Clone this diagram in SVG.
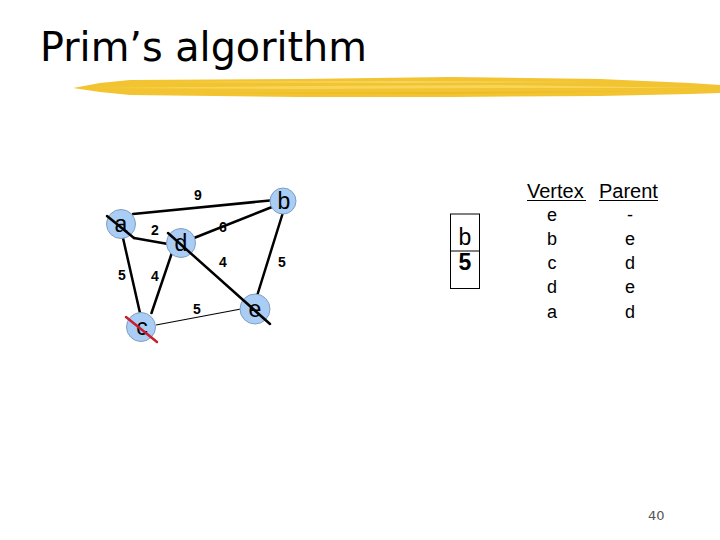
<svg xmlns="http://www.w3.org/2000/svg" width="720" height="540" viewBox="0 0 720 540">
<style>
.node circle{fill:#a9cdf5;stroke:#7f9fc0;stroke-width:1}
.nl{font-family:"Liberation Sans",Arial,sans-serif;font-size:23px;fill:#000;text-anchor:middle}
.w{font-family:"Liberation Sans",Arial,sans-serif;font-size:14px;font-weight:bold;fill:#000;text-anchor:middle}
.e{stroke:#000;stroke-width:2.5;fill:none;stroke-linecap:round}
.thin{stroke:#000;stroke-width:1.2;fill:none}
.t{font-family:"Liberation Sans",Arial,sans-serif;font-size:18px;fill:#000;text-anchor:middle}
.h{font-family:"Liberation Sans",Arial,sans-serif;font-size:20px;fill:#000}
</style>
<rect width="720" height="540" fill="#fff"/>
<text x="40" y="61" font-family="'DejaVu Sans','Noto Sans',sans-serif" font-size="40" textLength="327" lengthAdjust="spacingAndGlyphs" fill="#000">Prim’s algorithm</text>
<g id="brush">
<path d="M73,88 L100,83 L130,80 L300,79 L450,77 L600,79 L690,83 L720,85 L720,93 L690,94 L600,96 L450,97 L300,97 L130,95 L100,92 Z" fill="#f2c431"/>
<path d="M90,88 L300,86 L500,85 L700,88 L500,88 L300,89 Z" fill="#f8da62" opacity="0.8"/>
<path d="M150,82 L400,81 L600,82 L400,83 Z" fill="#f8dc70" opacity="0.7"/>
<path d="M200,93 L450,92 L650,91 L450,94 Z" fill="#e9b820" opacity="0.7"/>
</g>
<g id="connectors">
<line class="e" x1="133" y1="214" x2="270" y2="200.5"/>
<line class="e" x1="134" y1="238" x2="168" y2="244"/>
<line class="e" x1="194" y1="238" x2="272" y2="207"/>
<line class="e" x1="282.5" y1="214" x2="257" y2="296"/>
<line class="e" x1="123" y1="238" x2="140" y2="313"/>
<line class="e" x1="151.5" y1="313" x2="171.5" y2="254"/>
<line class="thin" x1="156" y1="325" x2="241" y2="309"/>
</g>
<g id="node-a" class="node"><circle cx="121" cy="224" r="14.5"/><text class="nl" x="121" y="232">a</text></g>
<g id="node-b" class="node"><circle cx="283" cy="201" r="13"/><text class="nl" x="284" y="209">b</text></g>
<g id="node-d" class="node"><circle cx="181" cy="243" r="14.5"/><text class="nl" x="181" y="251">d</text></g>
<g id="node-c" class="node"><circle cx="141" cy="327" r="14.5"/><text class="nl" x="142" y="335">c</text></g>
<g id="node-e" class="node"><circle cx="255" cy="309" r="15"/><text class="nl" x="255" y="317">e</text></g>
<g id="strikes">
<line class="e" x1="107" y1="216" x2="134" y2="238"/>
<line class="e" x1="168" y1="233" x2="270" y2="324"/>
<line x1="126" y1="317" x2="157" y2="342" stroke="#c8202a" stroke-width="2.5" stroke-linecap="round"/>
</g>
<g id="weights">
<text class="w" x="198" y="200">9</text>
<text class="w" x="155" y="235">2</text>
<text class="w" x="223" y="232">6</text>
<text class="w" x="223" y="267">4</text>
<text class="w" x="282" y="267">5</text>
<text class="w" x="122" y="280">5</text>
<text class="w" x="155" y="281">4</text>
<text class="w" x="197" y="314">5</text>
</g>
<g id="heap">
<rect x="450.5" y="214" width="29" height="74.5" fill="none" stroke="#000" stroke-width="1"/>
<line x1="450.5" y1="251" x2="479.5" y2="251" stroke="#000" stroke-width="1"/>
<text class="nl" x="465" y="245" font-size="20">b</text>
<text class="nl" x="465" y="270" font-weight="bold" font-size="19">5</text>
</g>
<g id="table">
<text class="h" x="527" y="198">Vertex</text>
<text class="h" x="599" y="198">Parent</text>
<line x1="527" y1="200.5" x2="586" y2="200.5" stroke="#000" stroke-width="1"/>
<line x1="599" y1="200.5" x2="658" y2="200.5" stroke="#000" stroke-width="1"/>
<text class="t" x="552" y="220.5">e</text><text class="t" x="630" y="220.5">-</text>
<text class="t" x="552" y="245">b</text><text class="t" x="630" y="245">e</text>
<text class="t" x="552" y="269">c</text><text class="t" x="630" y="269">d</text>
<text class="t" x="552" y="293">d</text><text class="t" x="630" y="293">e</text>
<text class="t" x="552" y="317.5">a</text><text class="t" x="630" y="317.5">d</text>
</g>
<text x="648" y="520" font-family="'DejaVu Sans',sans-serif" font-size="13" fill="#555">40</text>
</svg>
